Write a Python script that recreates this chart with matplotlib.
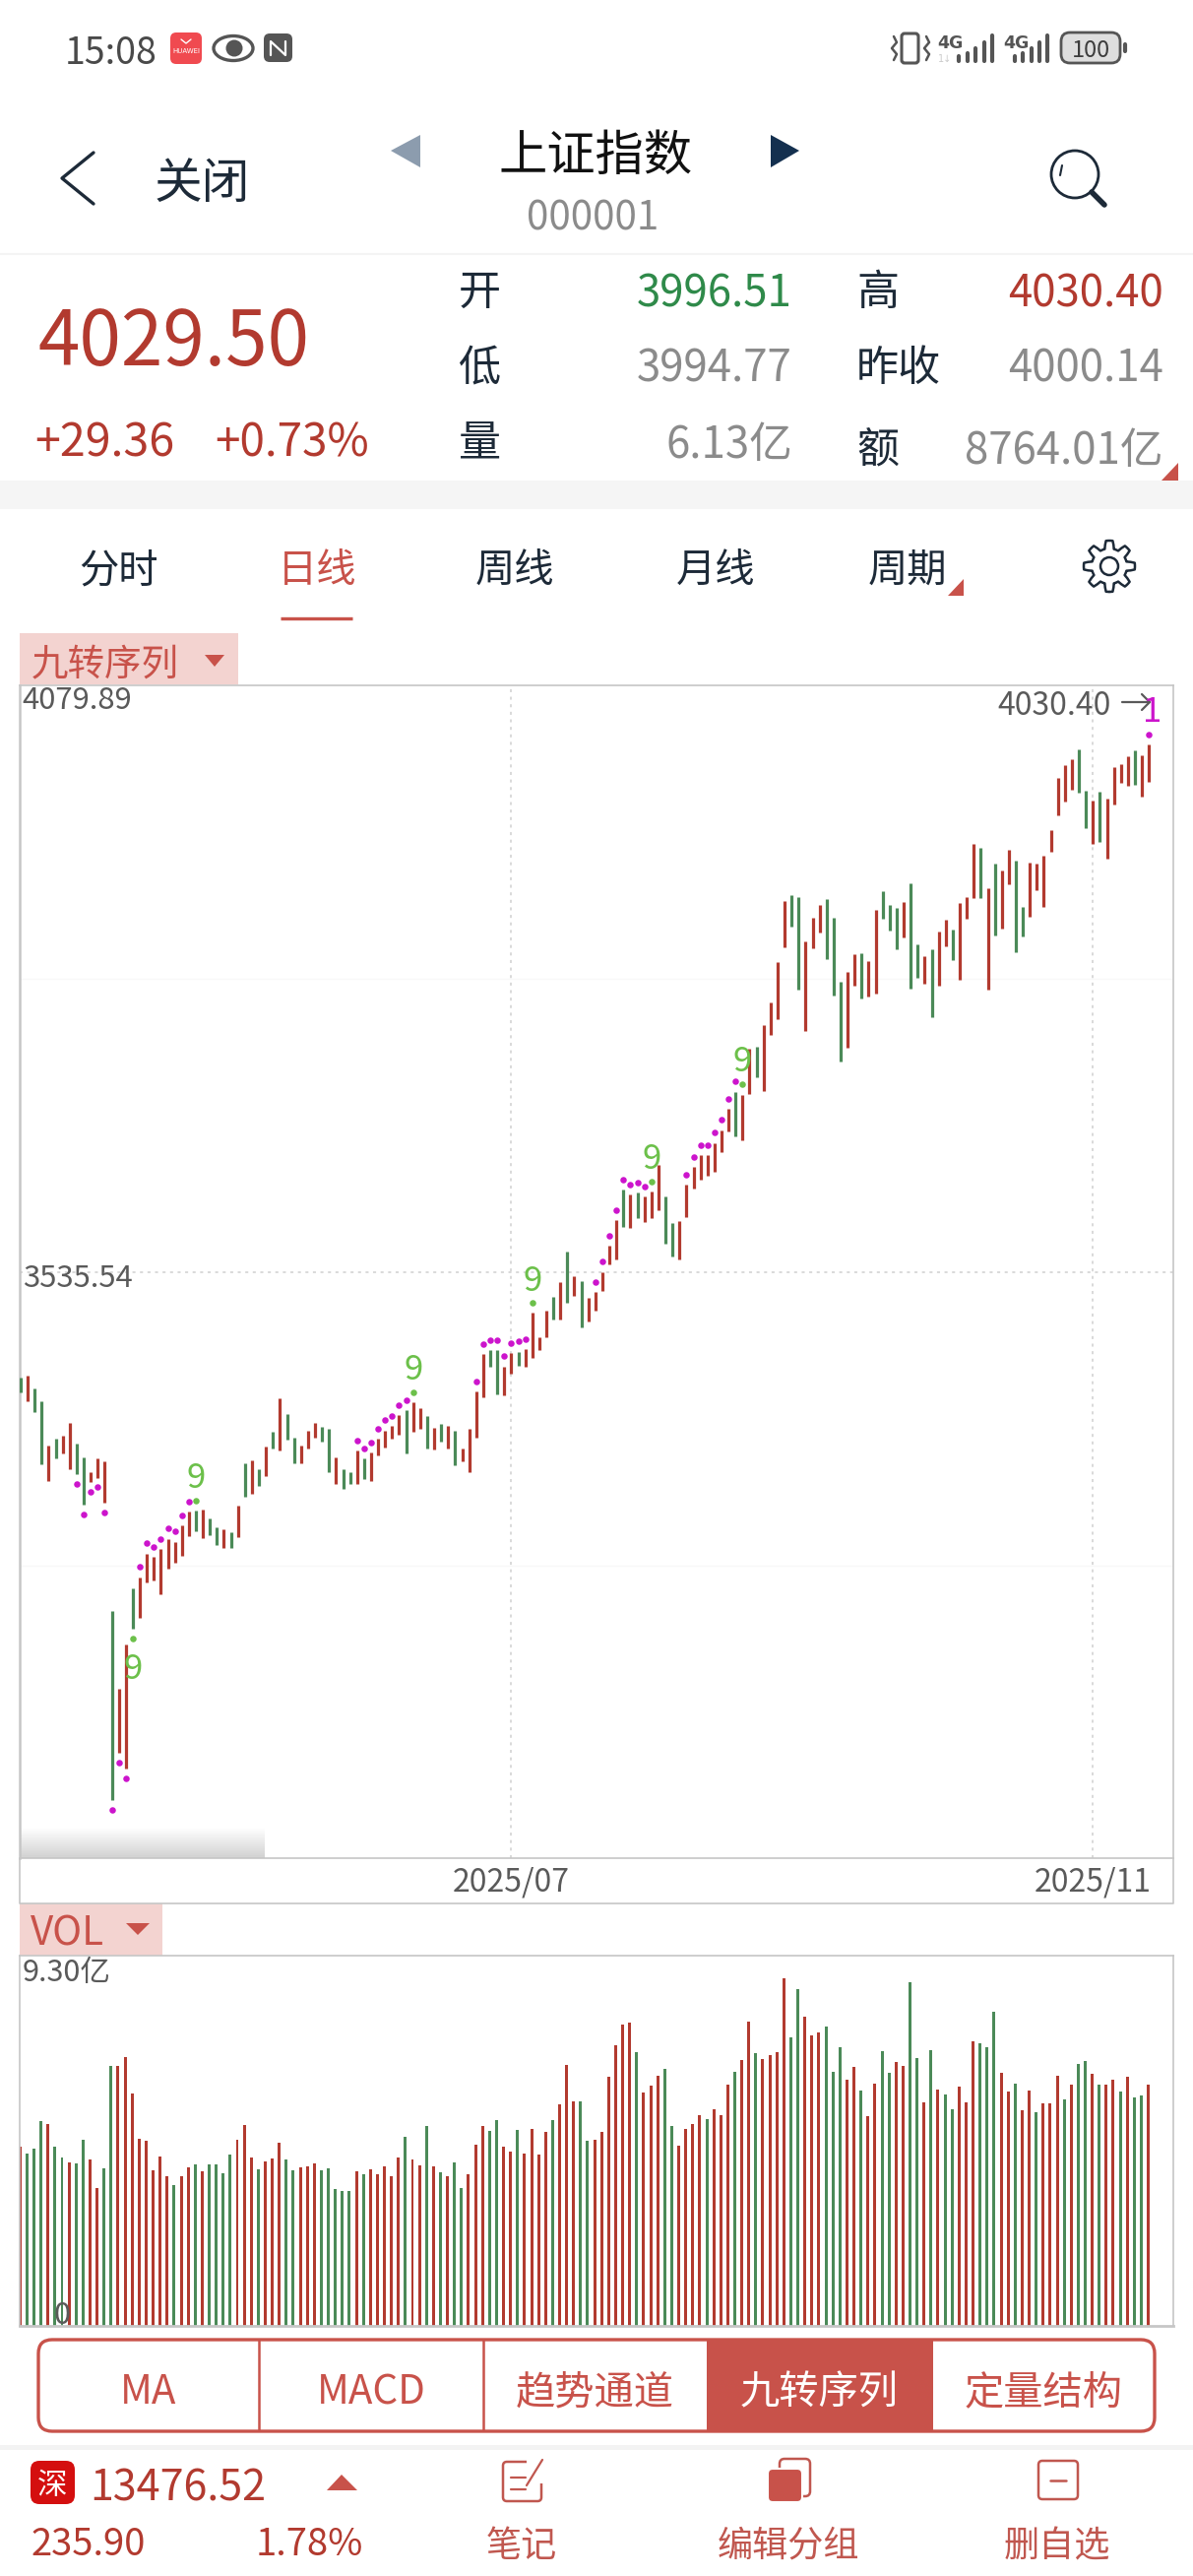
import numpy as np
import matplotlib
matplotlib.use('Agg')
import matplotlib.pyplot as plt
from matplotlib.patches import FancyBboxPatch, Polygon, Circle, Ellipse, Rectangle

plt.rcParams['font.family'] = ['Noto Sans CJK SC', 'DejaVu Sans']

# 日线 high / low, oldest first
price_high = [3438.2, 3439.8, 3428.1, 3415.7, 3374.9, 3381.4, 3383.7, 3395.4, 3376.2, 3363.5,
              3350.1, 3362.5, 3359.9, 3220.9, 3149.2, 3190.3, 3242.4, 3252.2, 3274.4, 3271.2,
              3278.7, 3287.8, 3285.2, 3300.5, 3313.6, 3314.2, 3315.5, 3307.0, 3298.9, 3297.2,
              3294.3, 3318.8, 3357.9, 3361.2, 3352.7, 3373.9, 3387.6, 3418.3, 3403.9, 3381.7,
              3374.9, 3388.9, 3396.1, 3391.8, 3390.5, 3364.1, 3353.0, 3350.1, 3370.0, 3362.5,
              3368.4, 3380.8, 3388.6, 3392.8, 3403.4, 3407.4, 3414.7, 3409.5, 3402.5, 3391.2,
              3394.6, 3392.8, 3388.2, 3372.4, 3390.6, 3424.7, 3459.7, 3463.4, 3463.4, 3448.2,
              3460.4, 3461.9, 3464.3, 3497.8, 3475.0, 3500.2, 3513.0, 3526.7, 3555.0, 3532.2,
              3527.3, 3512.1, 3517.3, 3535.5, 3560.2, 3583.6, 3612.3, 3608.0, 3609.2, 3605.9,
              3610.4, 3635.1, 3605.6, 3581.2, 3583.1, 3616.5, 3633.0, 3643.9, 3644.5, 3655.5,
              3667.4, 3687.2, 3703.0, 3700.3, 3742.9, 3744.4, 3764.8, 3785.5, 3823.0, 3879.9,
              3885.1, 3883.6, 3842.5, 3864.7, 3876.0, 3881.4, 3864.7, 3805.3, 3814.4, 3830.3,
              3831.2, 3824.2, 3871.7, 3889.0, 3876.2, 3873.2, 3879.0, 3896.0, 3840.0, 3828.8,
              3835.4, 3851.6, 3862.6, 3853.4, 3877.8, 3883.9, 3932.6, 3929.2, 3892.1, 3914.3,
              3908.2, 3927.1, 3917.0, 3874.1, 3915.5, 3914.3, 3921.9, 3946.0, 3994.1, 4005.6,
              4011.4, 4020.9, 3981.9, 3972.8, 3981.3, 3975.2, 4003.8, 4007.2, 4013.9, 4020.0,
              4015.4, 4025.2]
price_low = [3424.5, 3416.0, 3406.2, 3357.6, 3342.3, 3362.8, 3367.7, 3352.7, 3348.1, 3320.4,
             3341.0, 3344.9, 3321.7, 3046.1, 3089.8, 3074.8, 3205.3, 3214.7, 3248.0, 3249.3,
             3237.2, 3261.0, 3265.9, 3272.8, 3291.1, 3295.6, 3288.8, 3291.4, 3282.6, 3280.0,
             3280.0, 3289.4, 3326.9, 3330.2, 3337.4, 3346.5, 3371.9, 3370.0, 3379.8, 3358.6,
             3358.6, 3371.6, 3381.7, 3378.1, 3350.4, 3338.7, 3334.8, 3338.7, 3339.3, 3343.6,
             3342.3, 3365.4, 3372.9, 3381.4, 3385.1, 3367.8, 3387.3, 3390.4, 3372.4, 3370.9,
             3378.5, 3371.8, 3356.2, 3359.9, 3349.8, 3381.8, 3419.2, 3447.6, 3422.6, 3421.7,
             3441.8, 3449.1, 3448.2, 3456.4, 3463.7, 3475.6, 3492.0, 3492.0, 3507.6, 3514.0,
             3484.1, 3489.6, 3499.6, 3518.2, 3542.9, 3547.1, 3577.3, 3577.0, 3585.8, 3581.8,
             3585.8, 3593.4, 3562.3, 3550.2, 3547.1, 3587.0, 3613.5, 3621.7, 3624.7, 3628.7,
             3647.0, 3666.2, 3661.6, 3657.6, 3701.2, 3716.7, 3703.9, 3756.0, 3770.3, 3837.3,
             3856.5, 3797.7, 3759.6, 3836.4, 3851.0, 3825.7, 3792.5, 3731.3, 3743.5, 3801.0,
             3789.2, 3791.6, 3793.7, 3863.2, 3852.5, 3835.4, 3845.8, 3798.6, 3809.0, 3803.5,
             3772.4, 3801.7, 3837.6, 3825.1, 3806.8, 3863.2, 3882.3, 3882.6, 3797.7, 3847.9,
             3854.6, 3895.8, 3832.7, 3847.3, 3865.0, 3890.2, 3874.4, 3925.3, 3959.1, 3972.5,
             3982.8, 3980.7, 3947.8, 3933.2, 3934.7, 3918.9, 3969.4, 3989.5, 3986.5, 3987.4,
             3976.5, 3990.4]
price_dir = ('GRGGRGRRGG' 'RRRGRRGRRR' 'RRRRRGRGGR' 'GRGRGRGRGG' 'RRRGGRGGRG' 'RRRRRGRRGR'
             'GRGRRRRGGR' 'RGRRRRGRGR' 'GRRRRRGRGR' 'RRGGRRRRRR' 'RRGRRGRRRR' 'GGRRRGGGRR'
             'GRRGGGRGGR' 'GRRGRRRGRG' 'RRGGRRRRRR' 'RGGRGRRRRG' 'RR')

# VOL, 亿
volume = [4.50, 4.34, 4.46, 5.14, 5.06, 4.50, 4.23, 4.11, 4.07, 4.67,
          4.17, 3.46, 3.96, 6.53, 6.53, 6.75, 5.83, 4.69, 4.65, 3.92,
          4.25, 3.77, 3.54, 3.75, 3.98, 4.06, 3.88, 4.06, 4.06, 3.84,
          4.30, 4.68, 5.05, 4.23, 3.94, 4.13, 4.20, 4.59, 4.19, 3.91,
          3.98, 4.01, 4.07, 3.90, 3.95, 3.43, 3.40, 3.38, 3.88, 3.81,
          3.93, 3.82, 4.01, 3.75, 4.22, 4.75, 4.19, 4.04, 5.03, 4.01,
          3.85, 3.75, 4.10, 3.46, 3.80, 4.54, 5.02, 4.90, 5.16, 4.51,
          4.39, 4.91, 4.33, 4.94, 4.31, 4.87, 5.17, 5.57, 6.55, 5.64,
          5.64, 4.65, 4.67, 4.87, 6.25, 7.06, 7.57, 7.62, 6.87, 5.86,
          6.03, 6.29, 6.45, 5.03, 4.53, 4.94, 5.06, 5.29, 5.20, 5.44,
          5.29, 6.05, 6.38, 6.69, 7.65, 6.86, 6.71, 6.81, 6.88, 8.73,
          7.24, 8.47, 7.77, 7.29, 7.38, 7.52, 6.37, 7.00, 6.18, 6.51,
          5.92, 5.27, 6.09, 6.91, 6.36, 6.64, 6.54, 8.64, 6.73, 5.61,
          6.92, 5.94, 5.82, 5.44, 6.01, 5.62, 7.15, 7.09, 7.00, 7.90,
          6.36, 5.88, 6.09, 5.42, 5.91, 5.36, 5.58, 5.60, 6.29, 5.69,
          6.05, 6.59, 6.66, 6.33, 6.07, 6.06, 6.19, 5.89, 6.25, 5.74,
          5.78, 6.05]
volume_dir = ('RGGGRGGRGG' 'RRGGRRRRRR' 'RRGRRGRGGG' 'GRRRGRRRGG' 'RRRGGGGGRG' 'RRRRRGRRGR'
              'GRGGRRRGGR' 'RGRRRRGRRR' 'GGRRRRRRGR' 'RRGGRRRRGR' 'RRGRRGRRRR' 'GGRRRGGGRR'
              'GRRGGRRGGR' 'GRGGRRRGGG' 'RRGRRGRRRG' 'RGGRGRRGRG' 'GR')

# 九转序列 dots: bar index and price
dot_bars = [8, 9, 10, 11, 12, 13, 14, 15, 17, 18, 19, 20, 21, 22, 23, 24,
            48, 49, 50, 51, 52, 53, 54, 55,
            65, 66, 67, 68, 69, 70, 71, 72,
            82, 83, 84, 85, 86, 87, 88, 89,
            95, 96, 97, 98, 99, 100, 101, 102, 161]
dot_prices = [3339.0, 3310.9, 3331.8, 3336.1, 3312.9, 3036.6, 3080.7, 3066.0,
              3262.0, 3284.5, 3280.9, 3287.8, 3297.6, 3295.0, 3310.3, 3322.7,
              3379.5, 3372.3, 3377.8, 3390.5, 3398.4, 3402.0, 3412.5, 3417.1,
              3434.2, 3469.2, 3472.8, 3472.5, 3457.6, 3469.5, 3471.3, 3473.4,
              3526.7, 3545.3, 3569.6, 3593.4, 3621.4, 3617.1, 3618.4, 3614.7,
              3626.3, 3642.4, 3653.1, 3653.4, 3664.9, 3677.1, 3696.3, 3712.4, 4034.6]
nine_bars = [16, 25, 56, 73, 90, 103]
nine_dots = [3195.8, 3323.3, 3424.1, 3506.9, 3619.9, 3710.0]
nine_labels = [3171.0, 3347.8, 3448.5, 3530.4, 3643.9, 3733.8]

date_ticks = [70, 153]
date_labels = ['2025/07', '2025/11']
price_top = 4079.89
price_mid = 3535.54
price_faint = [3807.7, 3263.4]
volume_top = 9.30

RED = '#b23a2f'
GREEN = '#4b8a58'
ACCENT = '#c8524a'
GRAY = '#8b8b8b'
DARK = '#5a5a5a'
INK = '#1d2a38'
FRAME = '#c6c6c6'
W, H = 1212, 2616

fig = plt.figure(figsize=(W / 100, H / 100), dpi=100, facecolor='white')

# pixel canvas for the app screen around the charts
bg = fig.add_axes([0, 0, 1, 1])


def txt(x, y, s, size, color=INK, ha='center', **kw):
    bg.text(x, y, s, fontsize=size, color=color, ha=ha, va='center_baseline', **kw)


def line(xs, ys, color=INK, lw=2, **kw):
    bg.plot(xs, ys, color=color, lw=lw, solid_capstyle=kw.pop('cap', 'round'), **kw)


def tri(points, color):
    bg.add_patch(Polygon(points, closed=True, facecolor=color, edgecolor='none'))


def rbox(x0, y0, x1, y1, r, face='none', edge='none', lw=1.5):
    bg.add_patch(FancyBboxPatch((x0, y0), x1 - x0, y1 - y0, boxstyle=f'round,pad=0,rounding_size={r}',
                                facecolor=face, edgecolor=edge, linewidth=lw))


def rect(x0, y0, x1, y1, color):
    bg.add_patch(Rectangle((x0, y0), x1 - x0, y1 - y0, facecolor=color, edgecolor='none'))


# status bar
txt(66, 50, '15:08', 27, '#4a4a4a', ha='left')
rbox(173, 33, 205, 65, 6, face='#f04a50')
txt(189, 51, 'HUAWEI', 5, 'white', family='DejaVu Sans')
line([184, 189, 194], [40, 44, 40], 'white', 1)
bg.add_patch(Ellipse((237, 49), 40, 25, facecolor='white', edgecolor='#555555', lw=2.4))
bg.add_patch(Circle((238, 49), 8.5, facecolor='#555555'))
rbox(268, 34, 297, 63, 6, face='#555555')
line([275, 275, 290, 290], [56, 42, 56, 42], 'white', 1.6)

rbox(916, 34, 933, 64, 3, edge='#555555', lw=2.2)
line([908, 911, 906, 911, 908], [37, 43, 49, 55, 61], '#555555', 1.8)
line([941, 944, 939, 944, 941], [37, 43, 49, 55, 61], '#555555', 1.8)
signal_top = [55, 52, 47, 41, 34]
for x4g, bars_x in [(965, [974, 983, 991, 1000, 1008]), (1032, [1031, 1039, 1048, 1056, 1064])]:
    txt(x4g, 42, '4G', 12.5, '#555555', family='DejaVu Sans', weight='bold')
    for bx, top in zip(bars_x, signal_top):
        line([bx, bx], [top + 2, 62], '#555555', 3)
txt(960, 59, '1↓', 7, '#cccccc', family='DejaVu Sans')
rbox(1078, 33, 1138, 64, 9, face='#dedede', edge='#555555', lw=2)
txt(1108, 49, '100', 17, '#3d3d3d')
line([1143, 1143], [45, 52], '#555555', 3)

# header
line([95, 63, 95], [155, 181, 207], INK, 2.4)
txt(205, 182, '关闭', 35)
tri([(397, 153), (427, 137), (427, 170)], '#8c9cae')
txt(605, 153, '上证指数', 35.5, '#111111')
tri([(812, 153), (783, 137), (783, 170)], '#14304f')
txt(602, 217, '000001', 29, GRAY)
bg.add_patch(Circle((1092, 177), 24, facecolor='none', edgecolor=INK, lw=2))
line([1109, 1122], [195, 208], INK, 4)
line([1077, 1079], [178, 168], INK, 1.5)
line([0, W], [258, 258], '#f4f4f4', 1.5, cap='butt')

# quote block
txt(38, 340, '4029.50', 55, RED, ha='left')
txt(35, 445, '+29.36', 33.5, RED, ha='left')
txt(218, 445, '+0.73%', 33, RED, ha='left')
txt(487, 293, '开', 31)
txt(805, 293, '3996.51', 31.5, '#2f8a4a', ha='right')
txt(892, 293, '高', 31)
txt(1182, 293, '4030.40', 31.5, RED, ha='right')
txt(487, 370, '低', 31)
txt(805, 370, '3994.77', 31.5, GRAY, ha='right')
txt(913, 370, '昨收', 31)
txt(1182, 370, '4000.14', 31.5, GRAY, ha='right')
txt(487, 447, '量', 31)
txt(805, 447, '6.13亿', 31.5, GRAY, ha='right')
txt(892, 453, '额', 31)
txt(1182, 453, '8764.01亿', 31.5, GRAY, ha='right')
rect(0, 488, W, 517, '#f5f5f5')
tri([(1180, 488), (1197, 488), (1197, 470)], ACCENT)

# period tabs
for tx, name in [(120, '分时'), (523, '周线'), (727, '月线'), (922, '周期')]:
    txt(tx, 575, name, 29)
txt(322, 575, '日线', 29, ACCENT)
line([285, 358], [628, 628], ACCENT, 2.4, cap='butt')
tri([(963, 605), (979, 605), (979, 588)], ACCENT)
gear_ang = np.linspace(0, 2 * np.pi, 97)
gear_r = 22 + 4 * np.clip(2.2 * np.cos(8 * gear_ang), -1, 1)
line(1127 + gear_r * np.sin(gear_ang), 575 + gear_r * np.cos(gear_ang), INK, 1.8)
bg.add_patch(Circle((1127, 575), 9, facecolor='none', edgecolor=INK, lw=1.8))

# indicator tag and date row
rect(20, 643, 242, 695, '#f3d3d0')
txt(107, 670, '九转序列', 27, ACCENT)
tri([(208, 665), (228, 665), (218, 677)], ACCENT)
shade = np.tile(np.linspace(1.0, 0.82, 32)[:, None], (1, 249))
bg.imshow(shade, extent=(20, 269, 1887, 1855), cmap='gray', vmin=0, vmax=1, aspect='auto', zorder=0.5)
line([20, 20, 1192, 1192], [1887, 1933, 1933, 1887], FRAME, 1.2, cap='butt')
rect(20, 1933, 165, 1986, '#f3d3d0')
txt(68, 1959, 'VOL', 29, ACCENT)
tri([(128, 1953), (152, 1953), (140, 1965)], ACCENT)

# bottom buttons
rbox(39, 2376, 1173, 2469, 14, edge=ACCENT, lw=2.4)
rect(718, 2376, 948, 2469, ACCENT)
line([263, 263], [2376, 2469], ACCENT, 1.8, cap='butt')
line([491, 491], [2376, 2469], ACCENT, 1.8, cap='butt')
txt(151, 2425, 'MA', 29, ACCENT)
txt(377, 2425, 'MACD', 29, ACCENT)
txt(604, 2425, '趋势通道', 29, ACCENT)
txt(832, 2425, '九转序列', 29, 'white')
txt(1060, 2425, '定量结构', 29, ACCENT)
rect(0, 2483, W, 2488, '#f3f3f3')

# footer
rbox(31, 2499, 76, 2543, 9, face='#d40f0f')
txt(53, 2521, '深', 22, 'white')
txt(91, 2523, '13476.52', 31, RED, ha='left')
tri([(332, 2529), (363, 2529), (347, 2513)], ACCENT)
txt(32, 2580, '235.90', 27.5, RED, ha='left')
txt(260, 2580, '1.78%', 27.5, RED, ha='left')
txt(530, 2582, '笔记', 26, '#c0574f')
txt(801, 2582, '编辑分组', 26, '#c0574f')
txt(1074, 2582, '删自选', 26, '#c0574f')
rbox(511, 2500, 550, 2540, 4, edge='#c0574f', lw=1.8)
rect(535, 2496, 552, 2522, 'white')
line([535, 551], [2524, 2498], '#c0574f', 1.6)
line([519, 534], [2516, 2516], '#c0574f', 1.6)
line([519, 534], [2528, 2528], '#c0574f', 1.6)
rbox(792, 2497, 823, 2535, 5, edge='#c0574f', lw=1.8)
rbox(780, 2507, 815, 2541, 5, face=ACCENT, edge='white', lw=1.5)
rbox(1055, 2499, 1095, 2538, 4, edge='#c0574f', lw=1.8)
line([1067, 1083], [2519, 2519], '#c0574f', 1.8)

# 4030.40 marker
txt(1129, 713, '4030.40', 23, DARK, ha='right')
line([1140, 1168], [713, 713], DARK, 1.6)
line([1160, 1168, 1160], [705, 713, 721], DARK, 1.6)

bg.set_xlim(0, W)
bg.set_ylim(H, 0)
bg.axis('off')


def chart_axes(x0, y0, x1, y1):
    ax = fig.add_axes([x0 / W, 1 - y1 / H, (x1 - x0) / W, (y1 - y0) / H])
    ax.set_facecolor('none')
    for sp in ax.spines.values():
        sp.set_color(FRAME)
        sp.set_linewidth(1.2)
    return ax


bar_x = np.arange(len(price_high))
x_range = (-0.14, 164.47)

# price panel
ax_price = chart_axes(20, 696, 1192, 1887)
ax_price.vlines(bar_x, price_low, price_high, lw=2.3,
                colors=[RED if d == 'R' else GREEN for d in price_dir], capstyle='butt', zorder=3)
ax_price.scatter(dot_bars, dot_prices, s=22, color='#cc14cc', linewidths=0, zorder=4)
ax_price.scatter(nine_bars, nine_dots, s=22, color='#6cc04a', linewidths=0, zorder=4)
for b, p in zip(nine_bars, nine_labels):
    ax_price.text(b, p, '9', fontsize=25, color='#6cc04a', ha='center', va='center_baseline', zorder=5)
ax_price.text(161.4, 4058.6, '1', fontsize=25, color='#cc14cc', ha='center', va='center_baseline', zorder=5)
ax_price.set_xlim(*x_range)
ax_price.set_ylim(price_mid - (1887 - 1292) * 0.9134, price_top)
ax_price.set_xticks(date_ticks)
ax_price.set_xticklabels(date_labels, fontsize=23, color=DARK)
ax_price.set_yticks([price_mid])
ax_price.set_yticklabels([])
ax_price.tick_params(length=0)
ax_price.tick_params(axis='x', pad=6)
ax_price.grid(True, color='#cfcfcf', lw=1.1, linestyle=(0, (2, 3)), zorder=1)
for p in price_faint:
    ax_price.axhline(p, color='#f8f8f8', lw=1, zorder=1)
ax_price.spines['left'].set_linewidth(1.8)
ax_price.annotate(f'{price_top:.2f}', xy=(0, price_top), xycoords=ax_price.get_yaxis_transform(),
                  xytext=(2, -8.5), textcoords='offset points', fontsize=22.4, color=DARK, va='center_baseline')
ax_price.annotate(f'{price_mid:.2f}', xy=(0, price_mid), xycoords=ax_price.get_yaxis_transform(),
                  xytext=(2, -2), textcoords='offset points', fontsize=22.4, color=DARK, va='center_baseline')

# volume panel
ax_vol = chart_axes(20, 1986, 1192, 2362)
ax_vol.bar(bar_x - 0.1, volume, width=0.42, color=[RED if d == 'R' else GREEN for d in volume_dir], zorder=2)
ax_vol.set_xlim(*x_range)
ax_vol.set_ylim(0, volume_top)
ax_vol.set_xticks([])
ax_vol.set_yticks([])
ax_vol.spines['bottom'].set_linewidth(2)
ax_vol.annotate(f'{volume_top:.2f}亿', xy=(0, volume_top), xycoords=ax_vol.get_yaxis_transform(),
                xytext=(2, -10), textcoords='offset points', fontsize=22, color=DARK, va='center_baseline', zorder=5)
ax_vol.annotate('0', xy=(0, 0), xycoords=ax_vol.get_yaxis_transform(),
                xytext=(31, 10), textcoords='offset points', fontsize=22, color=DARK, ha='center', va='center_baseline', zorder=5)

fig.savefig('out.png', dpi=100)
